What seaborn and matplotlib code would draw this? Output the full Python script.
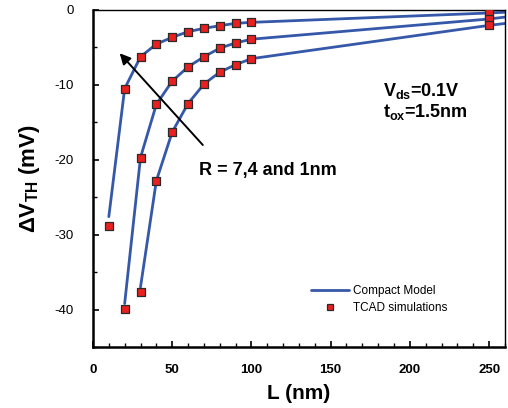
import pandas as pd
import matplotlib.pyplot as plt
import seaborn as sns
from matplotlib.lines import Line2D
from matplotlib.ticker import MultipleLocator

# channel length L (nm) and threshold shift (mV)
# compact model curves (top, middle, bottom)
model_top_L = [10, 20, 30, 40, 50, 60, 70, 80, 90, 100, 250, 260]
model_top_dv = [-27.6, -10.5, -6.25, -4.55, -3.65, -2.9, -2.45, -2.1, -1.78, -1.65, -0.4, -0.3]
model_mid_L = [20, 30, 40, 50, 60, 70, 80, 90, 100, 250, 260]
model_mid_dv = [-39.2, -19.7, -12.6, -9.5, -7.6, -6.25, -5.1, -4.4, -3.9, -1.2, -0.95]
model_bot_L = [30, 40, 50, 60, 70, 80, 90, 100, 250, 260]
model_bot_dv = [-37.0, -22.8, -16.3, -12.5, -9.9, -8.3, -7.3, -6.5, -2.05, -1.8]

# TCAD simulation points
tcad_top_L = [10, 20, 30, 40, 50, 60, 70, 80, 90, 100, 250]
tcad_top_dv = [-28.8, -10.5, -6.25, -4.55, -3.65, -2.9, -2.45, -2.1, -1.78, -1.65, -0.37]
tcad_mid_L = [20, 30, 40, 50, 60, 70, 80, 90, 100, 250]
tcad_mid_dv = [-39.9, -19.7, -12.6, -9.5, -7.6, -6.25, -5.1, -4.4, -3.9, -1.16]
tcad_bot_L = [30, 40, 50, 60, 70, 80, 90, 100, 250]
tcad_bot_dv = [-37.7, -22.8, -16.3, -12.5, -9.9, -8.3, -7.3, -6.5, -2.05]

model = pd.concat([
    pd.DataFrame({'L': model_top_L, 'dV': model_top_dv, 'curve': 'top'}),
    pd.DataFrame({'L': model_mid_L, 'dV': model_mid_dv, 'curve': 'mid'}),
    pd.DataFrame({'L': model_bot_L, 'dV': model_bot_dv, 'curve': 'bot'}),
])
tcad = pd.concat([
    pd.DataFrame({'L': tcad_top_L, 'dV': tcad_top_dv}),
    pd.DataFrame({'L': tcad_mid_L, 'dV': tcad_mid_dv}),
    pd.DataFrame({'L': tcad_bot_L, 'dV': tcad_bot_dv}),
])

sns.set_style("ticks")
plt.rcParams['font.family'] = ['Liberation Sans', 'DejaVu Sans']
plt.rcParams['mathtext.fontset'] = 'custom'
plt.rcParams['mathtext.rm'] = 'Liberation Sans'
plt.rcParams['mathtext.bf'] = 'Liberation Sans:bold'
plt.rcParams['axes.unicode_minus'] = False
plt.rcParams['text.color'] = 'black'
plt.rcParams['axes.labelcolor'] = 'black'
plt.rcParams['xtick.color'] = 'black'
plt.rcParams['ytick.color'] = 'black'
plt.rcParams['axes.edgecolor'] = 'black'

line_col = '#3558a8'
sq_col = '#e8201f'

fig = plt.figure(figsize=(5.08, 4.08), dpi=100)
ax = fig.add_axes([0.183, 0.1495, 0.811, 0.826])

sns.lineplot(data=model, x='L', y='dV', units='curve', estimator=None,
             color=line_col, linewidth=2.0, legend=False, ax=ax, sort=False)
sns.scatterplot(data=tcad, x='L', y='dV', marker='s', s=38, color=sq_col,
                edgecolor='#2a2a2a', linewidth=0.9, zorder=5, legend=False, ax=ax)

ax.set_xlim(0, 260)
ax.set_ylim(-45, 0)
ax.xaxis.set_major_locator(MultipleLocator(50))
ax.xaxis.set_minor_locator(MultipleLocator(10))
ax.yaxis.set_major_locator(MultipleLocator(10))
ax.yaxis.set_minor_locator(MultipleLocator(5))
ax.tick_params(which='both', direction='in', top=False, right=False)
ax.tick_params(which='major', length=4, width=1.2)
ax.tick_params(which='minor', length=3, width=1.0)
ax.tick_params(axis='y', labelsize=9.5, pad=14)
ax.tick_params(axis='x', labelsize=9.5, pad=12)
for t in ax.get_xticklabels():
    t.set_fontweight('bold')
for s in ['left', 'bottom']:
    ax.spines[s].set_linewidth(1.8)
for s in ['top', 'right']:
    ax.spines[s].set_linewidth(1.0)

ax.set_xlabel('L (nm)', fontsize=15, fontweight='bold', labelpad=6)
ax.set_ylabel(r'ΔV$_{\mathbf{TH}}$ (mV)', fontsize=16, fontweight='bold', labelpad=9)

# arrow and annotations
ax.annotate('', xy=(15.7, -5.5), xytext=(70.5, -18.3),
            arrowprops=dict(arrowstyle='-|>', color='black', lw=1.4,
                            mutation_scale=16))
ax.text(67, -21.4, 'R = 7,4 and 1nm', fontsize=13, fontweight='bold', va='center')
ax.text(183, -11.5, r'V$_{\mathbf{ds}}$=0.1V', fontsize=13, fontweight='bold', va='baseline')
ax.text(183, -14.3, r't$_{\mathbf{ox}}$=1.5nm', fontsize=13, fontweight='bold', va='baseline')

handles = [
    Line2D([], [], color=line_col, linewidth=2.0, label='Compact Model'),
    Line2D([], [], color=sq_col, marker='s', linestyle='none', markersize=5,
           markeredgecolor='#2a2a2a', markeredgewidth=0.9, label='TCAD simulations'),
]
ax.legend(handles=handles, loc='lower right', bbox_to_anchor=(0.885, 0.065),
          frameon=False, fontsize=8.5, handlelength=3.2, handletextpad=0.3,
          labelspacing=0.45)

fig.savefig('out.png', dpi=100)
